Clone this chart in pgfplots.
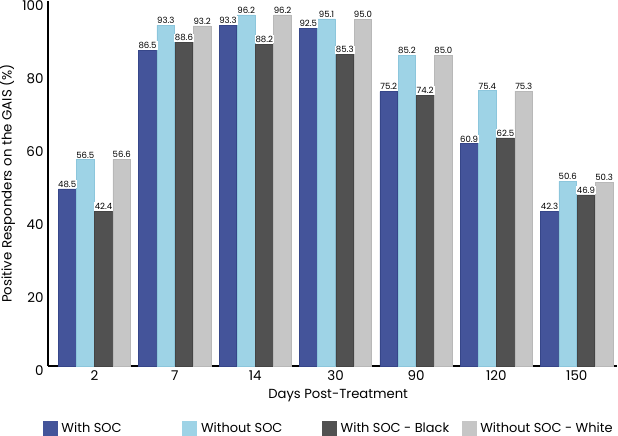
\documentclass[border=0pt]{standalone}
\usepackage{pgfplots}
\pgfplotsset{compat=1.18}
\usepackage{fontspec}
\setmainfont{Poppins}
\definecolor{cA}{HTML}{44549A}
\definecolor{cAe}{HTML}{364689}
\definecolor{cB}{HTML}{9ED3E6}
\definecolor{cBe}{HTML}{8CC6DC}
\definecolor{cC}{HTML}{515151}
\definecolor{cCe}{HTML}{444444}
\definecolor{cD}{HTML}{C6C6C6}
\definecolor{cDe}{HTML}{B8B8B8}
\begin{document}
\begin{tikzpicture}
\begin{axis}[
  name=ax,
  scale only axis, width=569bp, height=365bp,
  ybar=0.6bp, bar width=17.6bp,
  xmin=-0.578, xmax=6.5, ymin=0, ymax=100,
  xtick={0,...,6}, xticklabels={2,7,14,30,90,120,150},
  ytick={0,20,...,100},
  axis x line=bottom, axis y line=left,
  axis line style={-, line width=1.6bp, black},
  major tick length=0pt,
  /pgf/number format/assume math mode=true,
  tick label style={font=\fontsize{13.5}{15}\selectfont},
  yticklabel style={yshift=-5bp, xshift=-1bp},
  xticklabel style={yshift=-1.5bp},
  ylabel={Positive Responders on the GAIS (\%)},
  ylabel style={at={(axis description cs:-0.072,0.5)}, anchor=center, inner sep=0pt, font=\fontsize{13.4}{14}\selectfont},
  xlabel={Days Post-Treatment},
  xlabel style={at={(axis description cs:0.51,-0.082)}, anchor=center, font=\fontsize{13.2}{14}\selectfont},
  nodes near coords,
  nodes near coords style={font=\fontsize{8.6}{9}\selectfont, fill=white, inner sep=1bp, anchor=south, yshift=0.3bp,
    /pgf/number format/.cd, fixed, fixed zerofill, precision=1, assume math mode=true},
  legend columns=4,
  legend style={at={(axis description cs:-0.009,-0.171)}, anchor=west, draw=none, fill=none, inner sep=0pt, outer sep=0pt,
    font=\fontsize{13}{15}\selectfont, /tikz/every even column/.append style={column sep=0bp},
    nodes={inner sep=0pt, outer sep=0pt}},
]
\addplot[fill=cA, draw=cAe, line width=0.6bp, legend image code/.code={\fill[cA] (0bp,-7bp) rectangle (14bp,7bp);}] coordinates {(0,48.5) (1,86.5) (2,93.3) (3,92.5) (4,75.2) (5,60.9) (6,42.3)};
\addplot[fill=cB, draw=cBe, line width=0.6bp, legend image code/.code={\fill[cB] (0bp,-7bp) rectangle (14bp,7bp);}] coordinates {(0,56.5) (1,93.3) (2,96.2) (3,95.1) (4,85.2) (5,75.4) (6,50.6)};
\addplot[fill=cC, draw=cCe, line width=0.6bp, legend image code/.code={\fill[cC] (0bp,-7bp) rectangle (14bp,7bp);}] coordinates {(0,42.4) (1,88.6) (2,88.2) (3,85.3) (4,74.2) (5,62.5) (6,46.9)};
\addplot[fill=cD, draw=cDe, line width=0.6bp, legend image code/.code={\fill[cD] (0bp,-7bp) rectangle (14bp,7bp);}] coordinates {(0,56.6) (1,93.2) (2,96.2) (3,95.0) (4,85.0) (5,75.3) (6,50.3)};
\addlegendentry{\hspace{4bp}\makebox[121bp][l]{With SOC}}
\addlegendentry{\hspace{4bp}\makebox[121bp][l]{Without SOC}}
\addlegendentry{\hspace{4bp}\makebox[121bp][l]{With SOC - Black}}
\addlegendentry{\hspace{4bp}Without SOC - White}
\end{axis}
\pgfresetboundingbox
\path[use as bounding box] ([xshift=-48bp,yshift=-70bp]ax.south west) rectangle ([xshift=1bp,yshift=1bp]ax.north east);
\end{tikzpicture}
\end{document}
